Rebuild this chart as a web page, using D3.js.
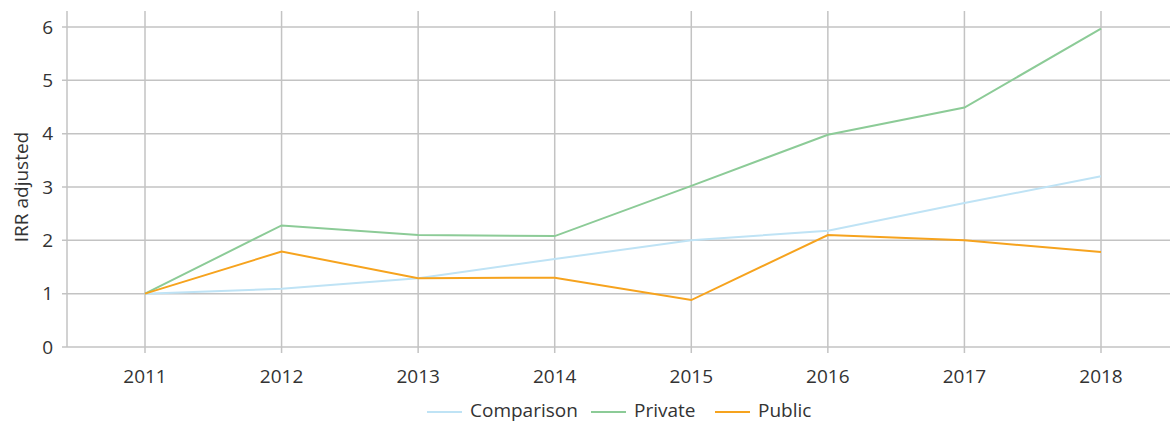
<!DOCTYPE html>
<html><head><meta charset="utf-8">
<script src="https://cdn.jsdelivr.net/npm/d3@7"></script>
<style>
body{margin:0;background:#fff;}
svg text{font-family:"Open Sans",sans-serif;fill:#333;}
</style></head>
<body><svg id="c" width="1171" height="423"></svg>
<script>
const years = ["2011","2012","2013","2014","2015","2016","2017","2018"];
const comparison = [1.0, 1.09, 1.29, 1.65, 2.0, 2.18, 2.70, 3.20];
const privateVals = [1.0, 2.28, 2.10, 2.08, 3.02, 3.98, 4.49, 5.97];
const publicVals = [1.0, 1.79, 1.29, 1.30, 0.88, 2.10, 2.00, 1.78];
const yTicks = [0,1,2,3,4,5,6];
const seriesNames = ["Comparison","Private","Public"];
const seriesColors = ["#bfe3f5","#8ccb97","#f6a31e"];

const svg = d3.select("#c");
const mLeft = 67, mRight = 1170, mTop = 11, mBottom = 347;
const x = d3.scalePoint().domain(years).range([145, 1101]);
const y = d3.scaleLinear().domain([0,6]).range([mBottom, 27]);
const grid = "#c3c3c3";
const fs = 19;

svg.append("g").selectAll("line").data(yTicks).join("line")
  .attr("x1", mLeft-5).attr("x2", mRight).attr("y1", d=>y(d)).attr("y2", d=>y(d))
  .attr("stroke", grid).attr("stroke-width", 1.5);
svg.append("line").attr("x1", mLeft).attr("x2", mLeft).attr("y1", mTop).attr("y2", mBottom)
  .attr("stroke", grid).attr("stroke-width", 1.5);
svg.append("g").selectAll("line").data(years).join("line")
  .attr("x1", d=>x(d)).attr("x2", d=>x(d)).attr("y1", mTop).attr("y2", mBottom+6)
  .attr("stroke", grid).attr("stroke-width", 1.5);

svg.append("g").selectAll("text").data(yTicks).join("text")
  .attr("x", 53).attr("y", d=>y(d)).attr("dy","0.35em").attr("text-anchor","end")
  .attr("font-size", fs).text(d=>d);
svg.append("g").selectAll("text").data(years).join("text")
  .attr("x", d=>x(d)).attr("y", 383).attr("text-anchor","middle")
  .attr("font-size", fs).text(d=>d);
svg.append("text").attr("transform","translate(28,187) rotate(-90)")
  .attr("text-anchor","middle").attr("font-size",fs).text("IRR adjusted");

const line = d3.line().x((d,i)=>x(years[i])).y(d=>y(d));
[comparison, privateVals, publicVals].forEach((vals,i)=>{
  svg.append("path").datum(vals).attr("d", line).attr("fill","none")
    .attr("stroke", seriesColors[i]).attr("stroke-width", 2);
});

const legX = [427, 591, 715];
seriesNames.forEach((n,i)=>{
  const g = svg.append("g").attr("transform",`translate(${legX[i]},410)`);
  g.append("line").attr("x1",0).attr("x2",35).attr("y1",2).attr("y2",2)
    .attr("stroke", seriesColors[i]).attr("stroke-width",2);
  g.append("text").attr("x",43).attr("y",0).attr("dy","0.35em").attr("font-size",fs).text(n);
});
</script></body></html>
